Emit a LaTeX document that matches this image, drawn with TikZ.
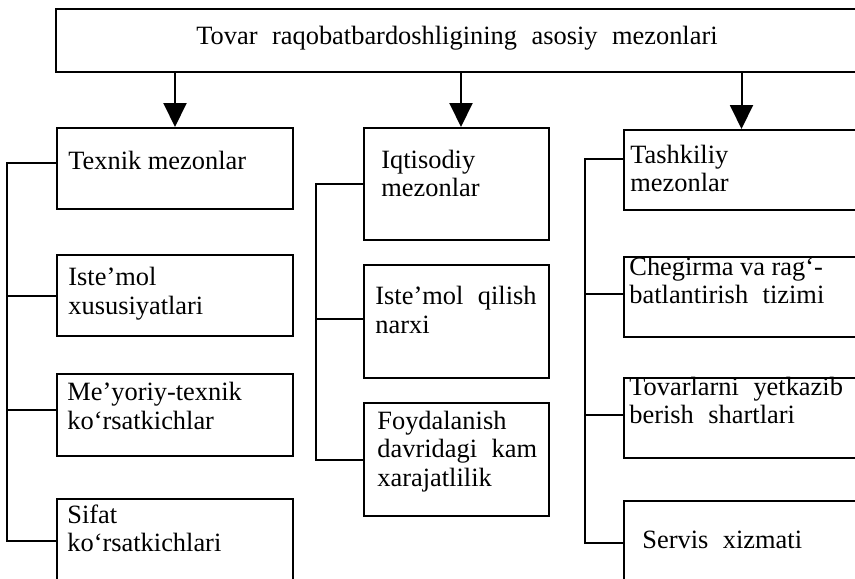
\documentclass[tikz,border=0pt]{standalone}
\usepackage{fontspec}
\setmainfont{Liberation Serif}
\usetikzlibrary{arrows.meta,calc,positioning}
\newcommand{\bigsp}{\hspace{0.55em}}
\tikzset{
  mbox/.style={draw=black,rectangle,inner sep=0pt,anchor=north west,line width=1pt},
  txt/.style={anchor=base west,align=left,inner sep=0pt,
              font=\fontsize{13.2}{14.1}\selectfont},
  arr/.style={-{Triangle[length=12pt,width=11.5pt]},line width=1pt},
  link/.style={line width=1pt},
}
\begin{document}
\begin{tikzpicture}[x=0.5pt,y=-0.5pt,
                col1/.style={mbox,minimum width=118pt},
                col2/.style={mbox,minimum width=92.5pt},
                col3/.style={mbox,minimum width=117.5pt}
            ]
                \useasboundingbox (0,0) rectangle (855,578);
                \clip (0,0) rectangle (855,578);

                % Header
                \node[mbox,minimum width=401.5pt,minimum height=31.5pt] (top) at (55,8) {};
                \node[txt,anchor=base] (title) at (457,44) {Tovar\bigsp raqobatbardoshligining\bigsp asosiy\bigsp mezonlari};

                % Column 1 (text nodes sit on their last baseline)
                \node[col1,minimum height=40.5pt] (b11) at (56,127) {};
                \node[col1,minimum height=40.5pt] (b12) at (56,254) {};
                \node[col1,minimum height=41pt] (b13) at (56,373) {};
                \node[col1,minimum height=42pt] (b14) at (56,498) {};
                \node[txt] (t11) at (68,169) {Texnik mezonlar};
                \node[txt] (t12) at (68,314) {Iste’mol\\xususiyatlari};
                \node[txt] (t13) at (67,429) {Me’yoriy-texnik\\ko‘rsatkichlar};
                \node[txt] (t14) at (67,551.5) {Sifat\\ko‘rsatkichlari};

                % Column 2
                \node[col2,minimum height=56pt] (b21) at (363,127) {};
                \node[col2,minimum height=56.5pt] (b22) at (363,264) {};
                \node[col2,minimum height=56.5pt] (b23) at (363,402) {};
                \node[txt] (t21) at (381,196.5) {Iqtisodiy\\mezonlar};
                \node[txt] (t22) at (375,333) {Iste’mol\bigsp qilish\\narxi};
                \node[txt] (t23) at (377,486) {Foydalanish\\davridagi\bigsp kam\\xarajatlilik};

                % Column 3
                \node[col3,minimum height=40pt] (b31) at (623,129) {};
                \node[col3,minimum height=40pt] (b32) at (623,256) {};
                \node[col3,minimum height=40pt] (b33) at (623,377) {};
                \node[col3,minimum height=42pt] (b34) at (623,500) {};
                \node[txt] (t31) at (630,191.5) {Tashkiliy\\mezonlar};
                \node[txt] (t32) at (629,303.5) {Chegirma va rag‘-\\batlantirish\bigsp tizimi};
                \node[txt] (t33) at (629,423.5) {Tovarlarni\bigsp yetkazib\\berish\bigsp shartlari};
                \node[txt] (t34) at (642,548) {Servis\bigsp xizmati};

                % Arrows
                \coordinate (a2) at ([xshift=2.25pt]b21.north);
                \draw[arr] (top.south -| b11.north) -- (b11.north);
                \draw[arr] (top.south -| a2) -- (a2);
                \draw[arr] (top.south -| b31.north) -- (b31.north);

                % Brackets
                \coordinate (k1) at (6.5,0);
                \coordinate (k2) at (316,0);
                \coordinate (k3) at (585,0);
                \coordinate (p11) at ([yshift=2.75pt]b11.west);
                \coordinate (p13) at ([yshift=2.5pt]b13.west);
                \coordinate (p22) at ([yshift=1.25pt]b22.west);
                \coordinate (p31) at ([yshift=5.5pt]b31.west);
                \coordinate (p32) at ([yshift=1.5pt]b32.west);
                \coordinate (p33) at ([yshift=1.5pt]b33.west);
                \draw[link] (p11) -| (k1 |- b14.west) -- (b14.west);
                \draw[link] (b12.west) -- (k1 |- b12.west);
                \draw[link] (p13) -- (k1 |- p13);
                \draw[link] (b21.west) -| (k2 |- b23.west) -- (b23.west);
                \draw[link] (p22) -- (k2 |- p22);
                \draw[link] (p31) -| (k3 |- b34.west) -- (b34.west);
                \draw[link] (p32) -- (k3 |- p32);
                \draw[link] (p33) -- (k3 |- p33);
            \end{tikzpicture}
\end{document}
